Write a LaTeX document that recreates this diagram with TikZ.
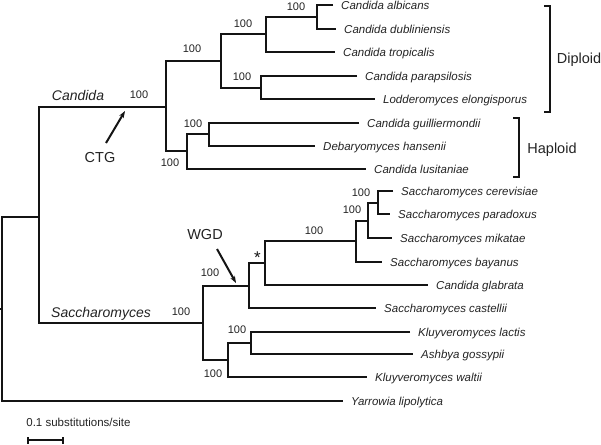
\documentclass[tikz,border=0pt]{standalone}
\usepackage{fontspec}
\setmainfont{Liberation Sans}
\usetikzlibrary{arrows.meta}
\definecolor{ink}{RGB}{20,20,20}
\definecolor{txt}{RGB}{35,35,35}
\begin{document}
\begin{tikzpicture}[x=1pt,y=-1pt,
  br/.style={line width=2.3pt, draw=ink, line cap=butt, line join=miter},
  tip/.style={anchor=west, inner sep=0pt, xshift=8pt, text=txt, font=\fontsize{11.5}{13}\selectfont\itshape, text height=8.2pt, text depth=0pt},
  bs/.style={inner sep=0pt, text=txt, font=\fontsize{11}{13}\selectfont, text height=7.9pt, text depth=0pt},
  big/.style={inner sep=0pt, text=txt, font=\fontsize{14.5}{17}\selectfont, text height=10.4pt, text depth=0pt},
  clade/.style={inner sep=0pt, text=txt, font=\fontsize{14}{17}\selectfont\itshape, text height=10pt, text depth=0pt},
  arr/.style={line width=2pt, draw=ink, -{Stealth[length=7pt,width=5pt]}},
  brk/.style={line width=2pt, draw=ink},
]
\useasboundingbox (0,0) rectangle (601,444);
% ---- tree node positions
\coordinate (r0) at (0,309);
\coordinate (r) at (2,309);
\coordinate (A) at (39,217);
\coordinate (C) at (166,107);
\coordinate (C1) at (221,61);
\coordinate (C11) at (266,34);
\coordinate (C111) at (317,17);
\coordinate (alb) at (333,5);
\coordinate (dub) at (336,29);
\coordinate (tro) at (335,52);
\coordinate (C12) at (261,88);
\coordinate (par) at (357,76);
\coordinate (lod) at (375,99);
\coordinate (C2) at (187,151);
\coordinate (C21) at (209,134);
\coordinate (gui) at (359,123);
\coordinate (han) at (315,146);
\coordinate (lus) at (366,169);
\coordinate (S) at (203,323);
\coordinate (S1) at (249,286);
\coordinate (S11) at (265,263);
\coordinate (S111) at (356,241);
\coordinate (S1111) at (368,221);
\coordinate (S11111) at (378,203);
\coordinate (cer) at (393,191);
\coordinate (prd) at (390,214);
\coordinate (mik) at (392,238);
\coordinate (bay) at (382,262);
\coordinate (gla) at (428,285);
\coordinate (cas) at (376,308);
\coordinate (S2) at (228,360);
\coordinate (S21) at (251,343);
\coordinate (lac) at (410,332);
\coordinate (gos) at (413,354);
\coordinate (wal) at (367,377);
\coordinate (yar) at (343,401);
% ---- branches
\draw[br] (r0) -- (r);
\draw[br] (A) -| (r) |- (yar);
\draw[br] (C) -| (A) |- (S);
\draw[br] (C1) -| (C) |- (C2);
\draw[br] (C11) -| (C1) |- (C12);
\draw[br] (C111) -| (C11) |- (tro);
\draw[br] (alb) -| (C111) |- (dub);
\draw[br] (par) -| (C12) |- (lod);
\draw[br] (C21) -| (C2) |- (lus);
\draw[br] (gui) -| (C21) |- (han);
\draw[br] (S1) -| (S) |- (S2);
\draw[br] (S11) -| (S1) |- (cas);
\draw[br] (S111) -| (S11) |- (gla);
\draw[br] (S1111) -| (S111) |- (bay);
\draw[br] (S11111) -| (S1111) |- (mik);
\draw[br] (cer) -| (S11111) |- (prd);
\draw[br] (S21) -| (S2) |- (wal);
\draw[br] (lac) -| (S21) |- (gos);
% ---- tip labels
\node[tip] (talb) at (alb) {Candida albicans};
\node[tip] (tdub) at (dub) {Candida dubliniensis};
\node[tip] (ttro) at (tro) {Candida tropicalis};
\node[tip] (tpar) at (par) {Candida parapsilosis};
\node[tip] (tlod) at (lod) {Lodderomyces elongisporus};
\node[tip] (tgui) at (gui) {Candida guilliermondii};
\node[tip] (than) at (han) {Debaryomyces hansenii};
\node[tip] (tlus) at (lus) {Candida lusitaniae};
\node[tip] (tcer) at (cer) {Saccharomyces cerevisiae};
\node[tip] (tprd) at (prd) {Saccharomyces paradoxus};
\node[tip] (tmik) at (mik) {Saccharomyces mikatae};
\node[tip] (tbay) at (bay) {Saccharomyces bayanus};
\node[tip] (tgla) at (gla) {Candida glabrata};
\node[tip] (tcas) at (cas) {Saccharomyces castellii};
\node[tip] (tlac) at (lac) {Kluyveromyces lactis};
\node[tip] (tgos) at (gos) {Ashbya gossypii};
\node[tip] (twal) at (wal) {Kluyveromyces waltii};
\node[tip] (tyar) at (yar) {Yarrowia lipolytica};
% ---- bootstrap values
\node[bs] (bC) at (139,95) {100};
\node[bs] (bC1) at (192,49) {100};
\node[bs] (bC11) at (243,24) {100};
\node[bs] (bC111) at (296,7) {100};
\node[bs] (bC12) at (242,77) {100};
\node[bs] (bC2) at (170,163) {100};
\node[bs] (bC21) at (193,124) {100};
\node[bs] (bS) at (181,312) {100};
\node[bs] (bS1) at (210,273) {100};
\node[bs] (bS111) at (314,231) {100};
\node[bs] (bS1111) at (352,210) {100};
\node[bs] (bS11111) at (361,193) {100};
\node[bs] (bS2) at (213,374) {100};
\node[bs] (bS21) at (237,330) {100};
\node[inner sep=0pt, text=ink, font=\fontsize{17}{19}\selectfont] (star) at (257.5,257.5) {*};
% ---- clade labels
\node[clade] (lCan) at (78,95) {Candida};
\node[clade] (lSac) at (101,312) {Saccharomyces};
\node[big] (ctg) at (100,157) {CTG};
\node[big] (wgd) at (205,234) {WGD};
\coordinate (ctgA) at (106,143);
\coordinate (ctgB) at (125,111);
\coordinate (wgdA) at (217,249);
\coordinate (wgdB) at (236,283);
\draw[arr] (ctgA) -- (ctgB);
\draw[arr] (wgdA) -- (wgdB);
% ---- ploidy brackets
\coordinate (d1) at (544,6);
\coordinate (d2) at (544,112);
\coordinate (dx) at (550,59);
\draw[brk] (d1) -| (dx) |- (d2);
\node[big] (dip) at (579,58) {Diploid};
\coordinate (h1) at (513,118);
\coordinate (h2) at (513,177);
\coordinate (hx) at (519,148);
\draw[brk] (h1) -| (hx) |- (h2);
\node[big] (hap) at (552,148) {Haploid};
% ---- scale bar
\node[bs, font=\fontsize{11.5}{13}\selectfont] (sbl) at (78.5,423) {0.1 substitutions/site};
\coordinate (sb1) at (28,440);
\coordinate (sb2) at (63,440);
\draw[line width=1.8pt, draw=ink] (sb1) -- (sb2);
\draw[line width=1.6pt, draw=ink] ([yshift=-3.5pt]sb1) -- ([yshift=3.5pt]sb1);
\draw[line width=1.6pt, draw=ink] ([yshift=-3.5pt]sb2) -- ([yshift=3.5pt]sb2);
\end{tikzpicture}
\end{document}
